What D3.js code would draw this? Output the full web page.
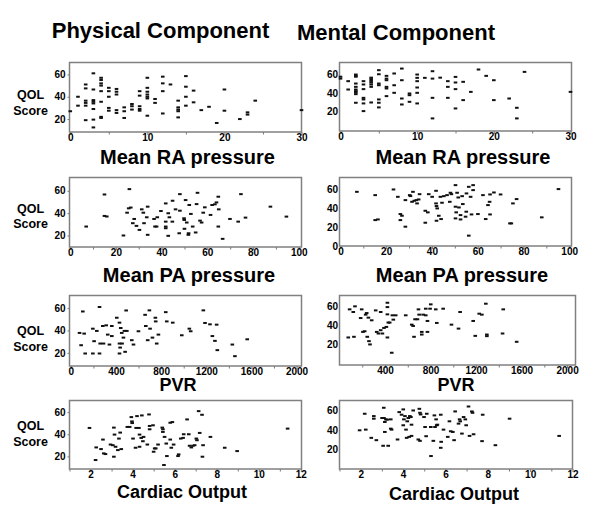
<!DOCTYPE html>
<html><head><meta charset="utf-8">
<script src="https://cdn.jsdelivr.net/npm/d3@7"></script>
<style>
html,body{margin:0;padding:0;background:#fff;}
text{font-family:"Liberation Sans",Arial,sans-serif;font-weight:bold;fill:#000;}
</style></head>
<body>
<svg id="chart" width="600" height="526"></svg>
<script>
// ---------- DATA ----------
const columnTitles = ["Physical Component", "Mental Component"];
const xTitles = ["Mean RA pressure", "Mean PA pressure", "PVR", "Cardiac Output"];
const yTitle = ["QOL", "Score"];

const raTicks = [0, 10, 20, 30];
const raMinor = [5, 15, 25];
const paTicks = [0, 20, 40, 60, 80, 100];
const paMinor = [10, 30, 50, 70, 90];
const pvrTicksLeft = [0, 400, 800, 1200, 1600, 2000];
const pvrTicksRight = [400, 800, 1200, 1600, 2000];
const pvrMinor = [200, 600, 1000, 1400, 1800];
const coTicks = [2, 4, 6, 8, 10, 12];
const coMinor = [1, 3, 5, 7, 9, 11];
const qolTicks = [20, 40, 60];
const qolTicksZero = [0, 20, 40, 60];

// [x, QOL score]
const raPhysical = [[0,27],[1,40],[1,32],[2,51],[2,47.5],[2,36.5],[2,34.5],[2,32],[2,19],[3,61],[3,46.5],[3,37],[3,35.5],[3,34],[3,29],[3,19.5],[3,12.5],[4,57],[4,55],[4,52],[4,50],[4,45],[4,35.5],[4,22],[4,21],[5,48],[5,45],[5,40],[5,30],[5,27.5],[6,47],[6,44.5],[6,42],[6,28],[6,25.5],[7,30.5],[7,27],[7,21],[8,33.5],[8,31.5],[8,28.5],[9,45],[9,41],[9,31.5],[9,29],[9,27.5],[10,57],[10,48],[10,44.5],[10,42],[10,40],[10,38.5],[10,23],[11,38],[11,34.5],[12,58],[12,52],[12,45],[12,25],[13,51],[14,36.5],[14,30.5],[14,28.5],[14,27],[14,21.5],[15,58.5],[15,49],[15,40],[15,32],[16,45.5],[16,35],[17,28],[18,31],[19,16.5],[20,46.5],[20,27.5],[22,20],[23,26],[23,24],[24,36.5],[30,28]];
const raMental = [[0,57],[0,55],[1,52.3],[1,43.5],[2,59.3],[2,58],[2,57],[2,49.8],[2,46.3],[2,43.5],[2,41.8],[2,40.4],[2,38.6],[2,29.5],[3,52.3],[3,48.8],[3,43.9],[3,34.7],[3,33],[3,28.8],[3,20.7],[4,56],[4,54.4],[4,52.6],[4,50.9],[4,48.8],[4,46.3],[4,29.8],[5,63.9],[5,59.6],[5,49.8],[5,48],[5,33],[5,29.5],[5,24.6],[6,57.9],[6,55],[6,53.3],[6,46.3],[6,44.6],[6,36.5],[7,60.4],[7,48],[7,40],[8,65.6],[8,53.3],[8,34],[8,27.7],[9,39.3],[9,37.5],[9,30.5],[10,59.3],[10,55.8],[10,52.3],[10,45.6],[10,40],[10,28.8],[11,55.8],[12,62.8],[12,55],[12,34.7],[12,13],[13,56],[14,52.3],[14,46.3],[14,34.7],[15,56.8],[15,50.9],[15,43.9],[15,23.5],[16,51.6],[16,32.3],[17,41],[18,64.6],[19,57.9],[20,53.3],[20,32.3],[22,34],[23,24.2],[23,13],[24,62.1],[30,41]];
const paPhysical = [[7,28],[15,56.7],[15,37.5],[16,37],[23.3,20],[24.9,40.4],[25.9,61.5],[25.6,44.3],[26.5,45],[27.4,31],[28,34.8],[29,28.6],[30.3,25],[31.3,43.4],[32,40.4],[32.3,31],[33.5,36.3],[33.9,20.6],[33.9,45.8],[36.7,34.8],[37.1,28],[37.8,28],[38.1,36.3],[39.7,41.9],[41.8,48.7],[41.8,32.4],[41.8,28],[41.8,26.5],[42.9,39.9],[42.9,19.7],[43.4,36.3],[44.7,32.4],[44.8,51.1],[46.1,43.4],[47.7,22],[48,57],[48,42.2],[49.8,35.4],[49.9,33.9],[50,26],[50.5,51.7],[51,31.6],[51.7,20.6],[51.8,22],[52.1,47.3],[52.8,39.3],[53.6,28],[54.9,22.7],[55.3,48.1],[55.7,58.2],[56.8,33.3],[57.5,31.6],[58.2,40.4],[58.9,45.2],[61.4,38.4],[62.1,47.3],[63.3,47.9],[64,49.6],[64.8,54.7],[64.8,28],[65,43.4],[66.7,17],[69.9,34.8],[73.5,32.4],[74.7,57],[76.7,36],[87.6,45.8],[94.6,36.9]];
const paMental = [[7.2,57.5],[15.2,54],[15.2,27.5],[16.4,28.2],[23.2,60],[25.1,52.2],[26.2,33.9],[26.9,32.1],[26.2,27.5],[28.4,48.7],[28.4,20.5],[30.3,54],[30.6,53],[31.7,57.5],[31.3,46.9],[32.3,48],[33.2,48.7],[33.5,45.2],[34.2,49.4],[34.6,55],[37.1,37.4],[37.1,24.7],[38.2,35.7],[38.6,55],[40.1,52.2],[41.8,58.6],[41.8,45.2],[42,42.4],[42.3,39.9],[42,26.8],[43,32.1],[43.7,52.2],[44,28.6],[44.4,45.9],[45.2,52.9],[46.6,54],[47.8,46.9],[48.1,56.5],[48.5,55],[50.3,64.6],[50.3,41.7],[50.6,35.7],[50.3,29.3],[51,56.5],[51.5,51.5],[51.8,40.9],[52.5,32.8],[52.5,28.2],[53.2,52.9],[53.5,44.5],[54.7,31.1],[55,36.4],[55.1,55.8],[56.1,11],[56.1,62.8],[56.9,52.2],[57.3,33.5],[58,64.6],[58,59.3],[60.1,33.9],[62.3,54],[63.5,28.6],[64.5,43.4],[65.2,46.9],[65.4,54.7],[65.4,33.5],[67.1,56.8],[70,54.7],[74.1,24],[74.7,24],[75.4,45.2],[77,49.8],[88,30.4],[95.3,60.4]];
const pvrPhysical = [[77,37.8],[91,26.8],[118,37.2],[106,57],[127,19.4],[195,41.6],[195,19.4],[206,30.4],[230,39.6],[254,61],[254,19.4],[283,44],[260,28.3],[289,28.3],[342,27.4],[363,35],[363,44],[313,44.6],[327,36.3],[431,28.3],[431,19.4],[437,24.7],[451,37.8],[407,51.4],[431,47],[442,42.2],[454,28.3],[466,33.6],[475,39.6],[490,57.9],[496,39.6],[481,20.9],[540,31.3],[555,27.4],[599,39.3],[658,54],[664,44],[696,58],[702,41.6],[681,31.3],[723,33.6],[749,51.4],[752,48.1],[761,28.3],[776,36.3],[841,56.4],[850,48.1],[903,47],[983,35.7],[1050,41.6],[1062,39.3],[1174,58],[1189,46.7],[1233,45.5],[1254,35],[1277,30.7],[1292,45.2],[1298,22.4],[1431,27.4],[1454,17],[1563,32.1]];
const pvrMental = [[77,27.4],[89,57.2],[136,60.4],[121,54.4],[127,28.1],[186,48],[195,57.2],[206,33.3],[221,34],[230,51.6],[239,53.3],[254,48.4],[244,28.1],[259,23.5],[268,20],[283,45.6],[318,56.1],[327,33.3],[342,31.6],[362,35.1],[362,54.4],[377,31.6],[391,37.5],[412,38.6],[421,64.2],[421,59.6],[421,51.9],[429,43.2],[421,27.4],[441,43.2],[459,11.2],[465,50.9],[473,46.3],[494,50.9],[582,50.9],[635,41],[647,39.6],[655,28.1],[664,46.7],[685,46.7],[694,57.2],[700,51.6],[723,30.5],[723,33.3],[735,51.6],[758,50.9],[758,57.9],[773,44.9],[773,33.3],[796,57.9],[802,62.5],[846,57.2],[855,42.8],[911,57.9],[984,41],[1046,36.8],[1060,54.4],[1175,44.9],[1193,29.1],[1228,52.6],[1251,51.6],[1286,63.2],[1295,30.5],[1295,28.8],[1439,57.2],[1433,31.6],[1557,22.8]];
const coPhysical = [[1.95,45.7],[2.24,16.7],[2.27,28.1],[2.5,26.6],[2.59,35.2],[2.63,22.7],[2.71,22.1],[2.95,30.7],[3.06,30.1],[3.11,46],[3.11,19.7],[3.14,39.7],[3.19,28.7],[3.3,25.7],[3.35,36.1],[3.41,41.5],[3.46,26.6],[3.75,46.6],[3.86,46.6],[3.94,55.5],[3.97,51.6],[3.98,50.1],[4.02,36.1],[4.14,27.8],[4.17,45.7],[4.21,56.4],[4.3,45.7],[4.33,39.7],[4.33,28.7],[4.41,36.7],[4.44,57],[4.49,33.7],[4.52,37.6],[4.7,30.7],[4.78,57.9],[4.81,47.5],[4.81,44.5],[4.97,48.1],[5,24.2],[5.05,27.2],[5.1,27.2],[5.21,30.7],[5.41,46],[5.44,44.5],[5.44,42.1],[5.52,37.6],[5.49,12.2],[5.6,31.6],[5.63,20.3],[5.79,35.2],[5.79,50.4],[5.89,51],[5.84,27.8],[5.95,30.7],[6.16,20.3],[6.19,21.8],[6.29,36.1],[6.4,36.7],[6.43,40],[6.59,53.4],[6.67,40],[6.71,29.6],[6.79,28.1],[6.87,29.6],[6.95,30.1],[7.03,36.1],[7.06,34.6],[7.14,60.9],[7.19,41.2],[7.3,57.6],[7.32,19.7],[7.35,30.1],[7.7,37.6],[8.38,27.8],[8.97,24.8],[11.37,45.1]];
const coMental = [[1.95,39.8],[2.19,56.9],[2.24,40.5],[2.5,32],[2.62,54.5],[2.62,51.8],[2.74,29.6],[3.01,52.5],[3.09,63.1],[3.1,52.5],[3.06,23.8],[3.14,48.4],[3.14,38.1],[3.19,51.1],[3.25,50.8],[3.3,23.8],[3.42,51.1],[3.42,41.5],[3.46,40.5],[3.74,30.3],[3.82,58.6],[3.93,55.9],[4.01,61.4],[4.04,51.1],[4.01,45],[4.09,54.5],[4.14,40.5],[4.17,32],[4.2,49.1],[4.25,52.5],[4.29,33],[4.37,53.5],[4.32,54.5],[4.4,45.6],[4.4,34],[4.48,60.3],[4.72,30.3],[4.77,62],[4.8,57.9],[4.8,28.9],[4.83,56.2],[4.99,53.5],[5.04,43.2],[5.09,33.7],[5.12,56.9],[5.31,43.2],[5.32,13.2],[5.43,28.9],[5.48,55.2],[5.51,43.2],[5.56,51.1],[5.59,45],[5.62,45.6],[5.78,55.9],[5.8,27.9],[5.78,21.7],[5.91,40.5],[6.11,33],[6.19,49.1],[6.25,38.8],[6.35,38.1],[6.41,29.6],[6.46,59.3],[6.62,46.7],[6.67,51.1],[6.7,49.1],[6.78,36.4],[6.86,53.5],[6.94,51.1],[6.98,45],[7.09,64.4],[7.14,34],[7.25,59.3],[7.28,57.9],[7.33,35.7],[7.73,28.6],[7.76,55.9],[8.36,24.4],[9.03,51.8],[11.37,34]];

// ---------- LAYOUT ----------
const L = [69.5, 301.5], R = [339.5, 571.5];
const panels = [
  {data: raPhysical, bx: L, by: [62.5,132], xd: [-0.1,30], yd: [8.4,70.7], xt: raTicks, xm: raMinor, yt: qolTicks, title: xTitles[0], fs: 20, tx: 187.5, ty: 164, left: true, q: [98.5,114.5]},
  {data: raMental, bx: R, by: [62.5,131], xd: [-0.13,30.13], yd: [-0.3,72], xt: raTicks, xm: raMinor, yt: qolTicks, title: xTitles[0], fs: 20, tx: 463, ty: 164},
  {data: paPhysical, bx: L, by: [177.5,247], xd: [-0.3,101.2], yd: [9.7,71.9], xt: paTicks, xm: paMinor, yt: qolTicks, title: xTitles[1], fs: 20, tx: 189, ty: 282, left: true, q: [212.5,227.5]},
  {data: paMental, bx: R, by: [177.5,246], xd: [-0.4,101], yd: [0,72.7], xt: paTicks, xm: paMinor, yt: qolTicksZero, title: xTitles[1], fs: 20, tx: 462, ty: 282},
  {data: pvrPhysical, bx: L, by: [295.5,366], xd: [-12,2044], yd: [8.2,71.3], xt: pvrTicksLeft, xm: pvrMinor, yt: qolTicks, title: xTitles[2], fs: 18, tx: 178, ty: 391, left: true, q: [335,351]},
  {data: pvrMental, bx: [339.5,575.5], by: [295.5,365], xd: [0,2074], yd: [-1.8,71.9], xt: pvrTicksRight, xm: pvrMinor, yt: qolTicks, title: xTitles[2], fs: 18, tx: 456, ty: 391},
  {data: coPhysical, bx: L, by: [400.5,469], xd: [1,12.03], yd: [8.6,70.5], xt: coTicks, xm: coMinor, yt: qolTicks, title: xTitles[3], fs: 18, tx: 182, ty: 498, left: true, q: [430,446]},
  {data: coMental, bx: [339.5,572.5], by: [400.5,469], xd: [1,12], yd: [-0.2,70.6], xt: coTicks, xm: coMinor, yt: qolTicks, title: xTitles[3], fs: 18, tx: 454, ty: 500}
];

const svg = d3.select("#chart");
svg.append("rect").attr("width",600).attr("height",526).attr("fill","#fff");

svg.append("text").attr("x",160.5).attr("y",38).attr("text-anchor","middle")
  .style("font-size","22px").text(columnTitles[0]);
svg.append("text").attr("x",396).attr("y",40).attr("text-anchor","middle")
  .style("font-size","22px").text(columnTitles[1]);

const fmt = d3.format("d");

panels.forEach(p => {
  const x = d3.scaleLinear().domain(p.xd).range(p.bx);
  const y = d3.scaleLinear().domain(p.yd).range([p.by[1], p.by[0]]);
  const g = svg.append("g");

  // minor x ticks
  const gm = g.append("g").attr("transform",`translate(0,${p.by[1]})`)
    .call(d3.axisBottom(x).tickValues(p.xm).tickSize(2.5).tickSizeOuter(0).tickFormat(""));
  gm.select(".domain").remove();
  gm.selectAll("line").attr("stroke","#777");

  const gx = g.append("g").attr("transform",`translate(0,${p.by[1]})`)
    .call(d3.axisBottom(x).tickValues(p.xt).tickFormat(fmt).tickSize(3).tickPadding(-1.5).tickSizeOuter(0));
  gx.select(".domain").remove();
  gx.selectAll("line").attr("stroke","#777");
  gx.selectAll("text").style("font-size","10px").attr("fill","#000");

  const gy = g.append("g").attr("transform",`translate(${p.bx[0]},0)`)
    .call(d3.axisLeft(y).tickValues(p.yt).tickFormat(fmt).tickSize(p.left ? 2 : 0).tickPadding(p.left ? 2 : 1.5).tickSizeOuter(0));
  gy.select(".domain").remove();
  gy.selectAll("line").attr("stroke","#777");
  gy.selectAll("text").style("font-size","10px").attr("fill","#000");

  // frame
  g.append("rect").attr("x",p.bx[0]).attr("y",p.by[0])
    .attr("width",p.bx[1]-p.bx[0]).attr("height",p.by[1]-p.by[0])
    .attr("fill","none").attr("stroke","#808080").attr("stroke-width",1.5);

  // points (short dash markers)
  g.append("g").selectAll("rect").data(p.data).join("rect")
    .attr("x", d => x(d[0]) - 1.8).attr("y", d => y(d[1]) - 1)
    .attr("width", 3.6).attr("height", 2).attr("fill","#111");

  g.append("text").attr("x",p.tx).attr("y",p.ty).attr("text-anchor","middle")
    .style("font-size", p.fs + "px").text(p.title);

  if (p.left) {
    g.append("text").attr("x",30.5).attr("y",p.q[0]).attr("text-anchor","middle")
      .style("font-size","12.5px").text(yTitle[0]);
    g.append("text").attr("x",30.5).attr("y",p.q[1]).attr("text-anchor","middle")
      .style("font-size","12.5px").text(yTitle[1]);
  }
});
</script>
</body></html>
